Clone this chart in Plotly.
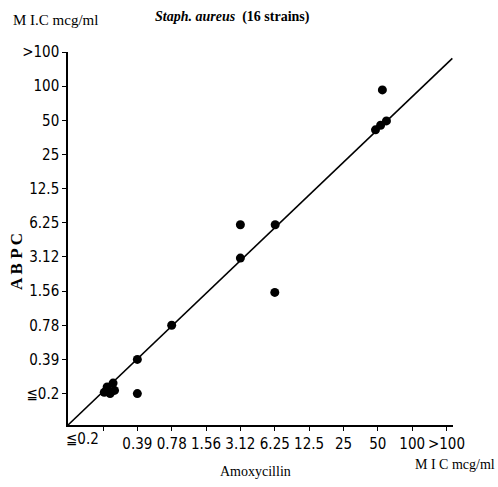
import math
import plotly.graph_objects as go

# Tick positions (doubling dilution series, mcg/ml) and labels
tick_vals = [0.195, 0.39, 0.78, 1.56, 3.12, 6.25, 12.5, 25, 50, 100, 200]
y_tick_text = ["≦0.2", "0.39", "0.78", "1.56", "3.12", "6.25", "12.5", "25", "50", "100", ">100"]
x_tick_text = ["", "0.39", "0.78", "1.56", "3.12", "6.25", "12.5", "25", "50", "100", ">100"]

# MIC values of the 16 strains (mcg/ml)
amoxycillin = [0.2, 0.212, 0.239, 0.225, 0.246, 0.39, 0.39, 0.78, 3.12, 3.12, 6.3, 6.25, 47.7, 52.9, 59.5, 54.8]
abpc = [0.2, 0.223, 0.241, 0.195, 0.208, 0.39, 0.195, 0.78, 3.05, 6.0, 6.0, 1.52, 41.2, 45.2, 49.4, 92.6]

# Reference line (equal MIC)
diag_x = [0.0962, 225]
diag_y = [0.103, 176]

L, R, T, B = 68, 45, 52, 62
W, H = 498, 487
x_lo, x_hi = 0.0962, 228
y_lo, y_hi = 0.103, 200
pw = W - L - R
ph = H - T - B


def px(xp):
    return (xp - L) / pw


def py(yp):
    return (H - B - yp) / ph


fig = go.Figure()
fig.add_trace(go.Scatter(x=diag_x, y=diag_y, mode="lines",
                         line=dict(color="black", width=1.6), hoverinfo="skip"))
fig.add_trace(go.Scatter(x=amoxycillin, y=abpc, mode="markers",
                         marker=dict(color="black", size=9), cliponaxis=False))

tick_font = dict(family="DejaVu Sans Condensed, DejaVu Sans", size=15, color="black")
serif = "Liberation Serif, DejaVu Serif, serif"

axis_common = dict(type="log", showgrid=False, zeroline=False, showline=True,
                   linecolor="black", linewidth=1.5, ticks="outside", ticklen=4,
                   tickcolor="black", tickwidth=1, tickmode="array", automargin=False,
                   tickvals=tick_vals, tickfont=tick_font)

fig.update_xaxes(range=[math.log10(x_lo), math.log10(x_hi)], ticktext=x_tick_text, **axis_common)
fig.update_yaxes(range=[math.log10(y_lo), math.log10(y_hi)], ticktext=y_tick_text, **axis_common)

annotations = [
    dict(text="M I.C mcg/ml", x=px(55), y=py(20), font=dict(family=serif, size=15, color="black")),
    dict(text="<b><i>Staph. aureus</i>\u00a0\u00a0(16 strains)</b>", x=px(232), y=py(17),
         font=dict(family=serif, size=14, color="black")),
    dict(text="<b>A B P C</b>", x=px(16), y=py(262), textangle=-90,
         font=dict(family=serif, size=17, color="black")),
    dict(text="Amoxycillin", x=px(255), y=py(471), font=dict(family=serif, size=14, color="black")),
    dict(text="M I C mcg/ml", x=px(497), y=py(464), xanchor="right",
         font=dict(family=serif, size=14, color="black")),
    dict(text="≦0.2", x=px(82), y=py(439), font=tick_font),
]
for a in annotations:
    a.setdefault("xanchor", "center")
    a.update(xref="paper", yref="paper", showarrow=False, yanchor="middle")

fig.update_layout(width=W, height=H, margin=dict(l=L, r=R, t=T, b=B),
                  paper_bgcolor="white", plot_bgcolor="white", showlegend=False,
                  annotations=annotations)

fig.write_html("out.html", config={"displayModeBar": False},
               post_script="document.body.style.margin='0';document.body.style.overflow='hidden';")
